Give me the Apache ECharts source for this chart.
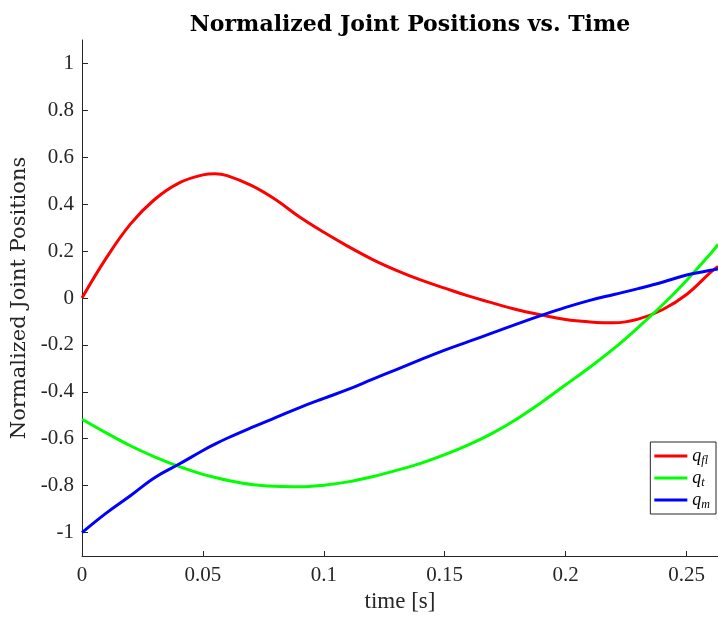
<!DOCTYPE html>
<html>
<head>
<meta charset="utf-8">
<script src="https://cdn.jsdelivr.net/npm/echarts@6/dist/echarts.min.js"></script>
<style>
html,body{margin:0;padding:0;background:#fff;}
#chart{width:718px;height:621px;}
</style>
</head>
<body>
<div id="chart"></div>
<script>
const timeS = [0, 0.01, 0.02, 0.03, 0.04, 0.05, 0.055, 0.06, 0.07, 0.08, 0.09, 0.1, 0.11, 0.12, 0.13, 0.14, 0.15, 0.16, 0.17, 0.18, 0.19, 0.2, 0.21, 0.22, 0.23, 0.24, 0.25, 0.26, 0.263];
const qFl = [0, 0.17, 0.315, 0.42, 0.49, 0.525, 0.53, 0.522, 0.48, 0.42, 0.345, 0.28, 0.22, 0.165, 0.118, 0.077, 0.042, 0.008, -0.022, -0.05, -0.072, -0.092, -0.102, -0.106, -0.09, -0.05, 0.015, 0.11, 0.135];
const qT = [-0.517, -0.575, -0.63, -0.677, -0.718, -0.752, -0.765, -0.777, -0.795, -0.803, -0.805, -0.798, -0.784, -0.762, -0.735, -0.705, -0.668, -0.625, -0.575, -0.515, -0.445, -0.37, -0.295, -0.215, -0.125, -0.03, 0.075, 0.19, 0.228];
const qM = [-1.0, -0.917, -0.843, -0.766, -0.709, -0.65, -0.623, -0.598, -0.553, -0.51, -0.467, -0.428, -0.39, -0.347, -0.305, -0.263, -0.222, -0.185, -0.148, -0.11, -0.074, -0.04, -0.01, 0.015, 0.04, 0.067, 0.098, 0.118, 0.124];
const xTicks = [0, 0.05, 0.1, 0.15, 0.2, 0.25];
const yTicks = [-1, -0.8, -0.6, -0.4, -0.2, 0, 0.2, 0.4, 0.6, 0.8, 1];
const seriesNames = ['q_fl', 'q_t', 'q_m'];
const seriesSubs = {'q_fl': 'fl', 'q_t': 't', 'q_m': 'm'};
const seriesColors = ['#ff0000', '#00ff00', '#0000ff'];

const FONT = 'Liberation Serif';
const FONT2 = 'DejaVu Serif';
const AX = '#262626';
const pairs = arr => timeS.map((t, i) => [t, arr[i]]);
const data = [qFl, qT, qM];

const chart = echarts.init(document.getElementById('chart'), null, {renderer: 'canvas'});
chart.setOption({
  animation: false,
  backgroundColor: '#fff',
  title: {
    text: 'Normalized Joint Positions vs. Time',
    left: 405, top: 9, textAlign: 'center',
    textStyle: {fontFamily: FONT2, fontWeight: 'bold', fontSize: 22, color: '#000'}
  },
  grid: {left: 82, right: 0, top: 40, bottom: 65, containLabel: false},
  legend: {
    orient: 'vertical', right: 2, top: 442,
    data: seriesNames.map((n) => ({name: n, icon: 'rect'})),
    itemWidth: 33, itemHeight: 3, itemGap: 2,
    padding: [5, 6, 3, 4],
    backgroundColor: '#fff', borderColor: AX, borderWidth: 1, borderRadius: 0,
    formatter: n => '{q|q}{s|' + seriesSubs[n] + '}',
    textStyle: {
      fontFamily: FONT, color: '#000',
      rich: {
        q: {fontFamily: FONT, fontStyle: 'italic', fontSize: 18, lineHeight: 14, verticalAlign: 'middle'},
        s: {fontFamily: FONT, fontStyle: 'italic', fontSize: 12, lineHeight: 14, verticalAlign: 'bottom', padding: [0, 0, -4, 0]}
      }
    }
  },
  xAxis: {
    type: 'value', min: 0, max: 0.263,
    name: 'time [s]', nameLocation: 'middle', nameGap: 33,
    nameTextStyle: {fontFamily: FONT, fontSize: 23, color: AX},
    splitLine: {show: false},
    axisLine: {show: true, onZero: false, lineStyle: {color: AX, width: 1}},
    axisTick: {show: true, inside: true, length: 5, customValues: xTicks, lineStyle: {color: AX}},
    axisLabel: {customValues: xTicks, margin: 9, fontFamily: FONT, fontSize: 21, color: AX,
      formatter: v => String(v)}
  },
  yAxis: {
    type: 'value', min: -1.1, max: 1.1,
    name: 'Normalized Joint Positions', nameLocation: 'middle', nameGap: 31, nameRotate: 90,
    nameTextStyle: {fontFamily: FONT2, fontSize: 21, color: AX},
    splitLine: {show: false},
    axisLine: {show: true, onZero: false, lineStyle: {color: AX, width: 1}},
    axisTick: {show: true, inside: true, length: 6, customValues: yTicks, lineStyle: {color: AX}},
    axisLabel: {customValues: yTicks, margin: 8, fontFamily: FONT, fontSize: 21, color: AX,
      formatter: v => String(Math.round(v * 10) / 10)}
  },
  series: seriesNames.map((n, i) => ({
    name: n, type: 'line', data: pairs(data[i]), smooth: 0.4,
    showSymbol: false, symbol: 'none',
    lineStyle: {color: seriesColors[i], width: 3},
    itemStyle: {color: seriesColors[i]}
  }))
});
</script>
</body>
</html>
